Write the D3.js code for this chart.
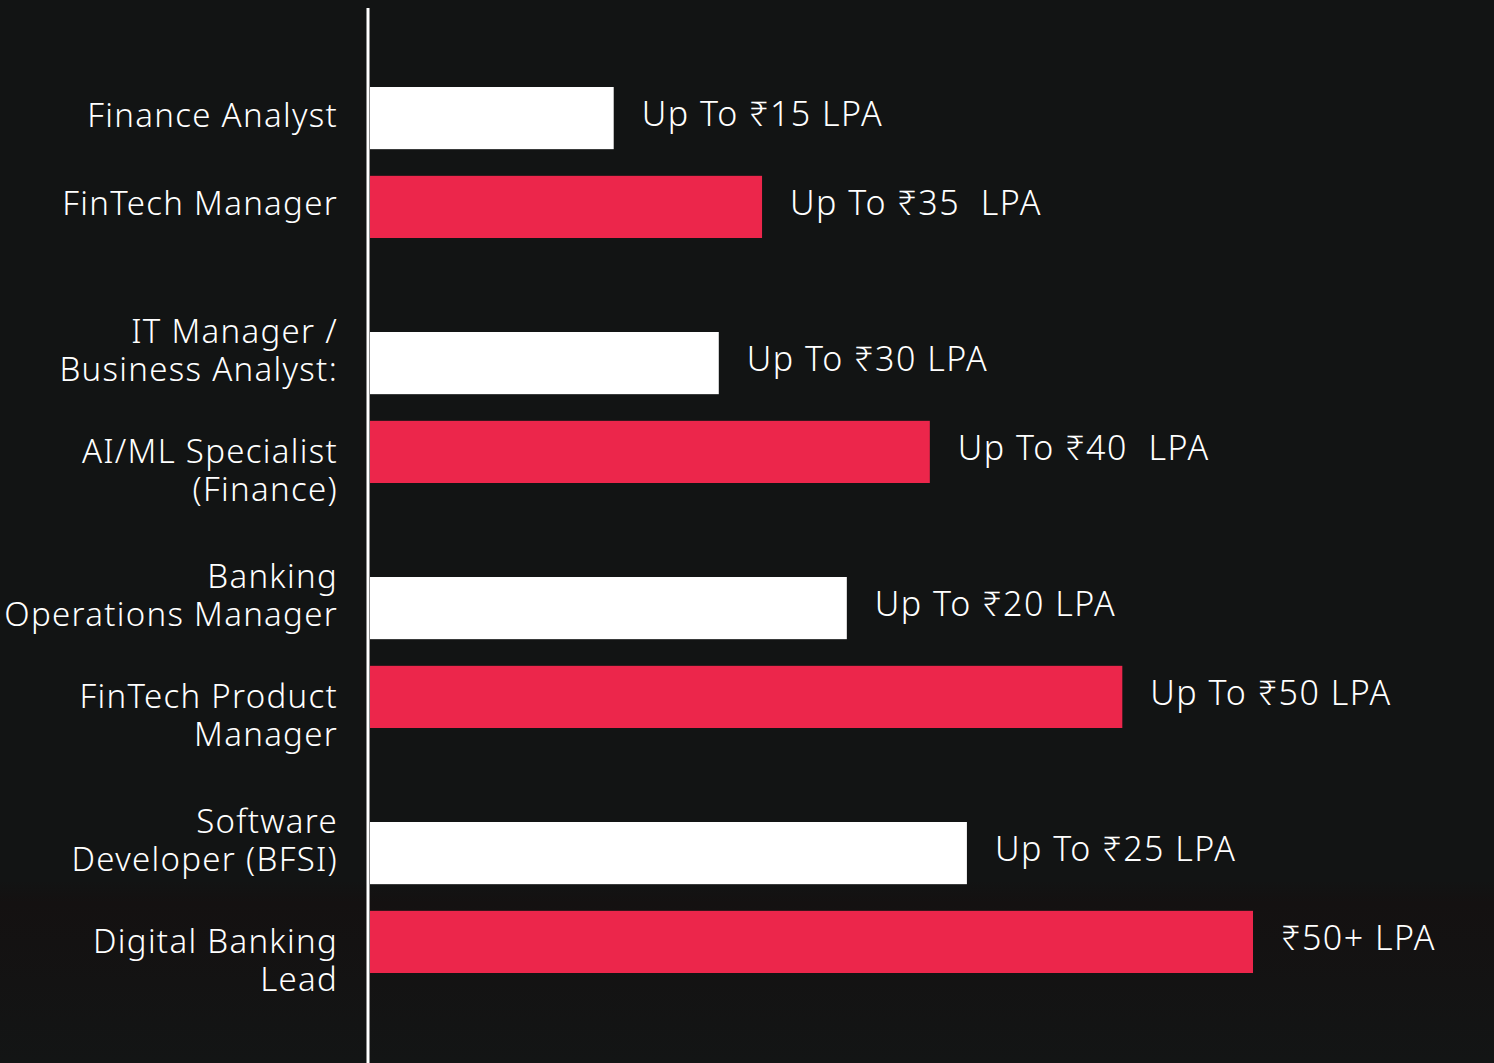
<!DOCTYPE html>
<html>
<head>
<meta charset="utf-8">
<script src="https://cdn.jsdelivr.net/npm/d3@7"></script>
<style>
  html, body { margin: 0; padding: 0; background: #121414; }
  svg { display: block; }
  text { font-family: "Noto Sans", "DejaVu Sans", sans-serif; font-weight: 300; fill: #ffffff; }
</style>
</head>
<body>
<div id="chart"></div>
<script>
// roles, top to bottom; "\n" splits a label into lines
const roles = [
  "Finance Analyst",
  "FinTech Manager",
  "IT Manager /\nBusiness Analyst:",
  "AI/ML Specialist\n(Finance)",
  "Banking\nOperations Manager",
  "FinTech Product\nManager",
  "Software\nDeveloper (BFSI)",
  "Digital Banking\nLead"
];
// bar length, % of the longest bar
const barLength = [27.6, 44.4, 39.5, 63.4, 54.0, 85.2, 67.6, 100];
const salaryLabels = [
  "Up To ₹15 LPA",
  "Up To ₹35  LPA",
  "Up To ₹30 LPA",
  "Up To ₹40  LPA",
  "Up To ₹20 LPA",
  "Up To ₹50 LPA",
  "Up To ₹25 LPA",
  "₹50+ LPA"
];
const barColors = ["#ffffff", "#ec264b"];

const width = 1494, height = 1063;
const axisX = 370;

const data = roles.map((r, i) => ({
  role: r, len: barLength[i], label: salaryLabels[i],
  group: Math.floor(i / 2), slot: i % 2
}));

const svg = d3.select("#chart").append("svg")
  .attr("width", width).attr("height", height);

// faint warmer band at the bottom (photo behind the chart)
const grad = svg.append("defs").append("linearGradient")
  .attr("id", "bottomFade").attr("x1", 0).attr("y1", 0).attr("x2", 0).attr("y2", 1);
grad.append("stop").attr("offset", "0%").attr("stop-color", "#121414");
grad.append("stop").attr("offset", "12%").attr("stop-color", "#141111");
grad.append("stop").attr("offset", "100%").attr("stop-color", "#131515");
svg.append("rect").attr("x", 0).attr("y", 880).attr("width", width).attr("height", height - 880)
  .attr("fill", "url(#bottomFade)");

const x = d3.scaleLinear().domain([0, 100]).range([axisX, 1253]);

const yGroup = d3.scaleBand()
  .domain(d3.range(4))
  .range([87, 87 + 4 * 245]);

const ySlot = d3.scaleBand()
  .domain([0, 1])
  .range([0, 151])
  .paddingInner(0.3);

const yPos = d => yGroup(d.group) + ySlot(d.slot);
const bh = ySlot.bandwidth();

svg.append("g").selectAll("rect")
  .data(data)
  .join("rect")
  .attr("x", x(0))
  .attr("y", d => yPos(d))
  .attr("width", d => x(d.len) - x(0))
  .attr("height", bh)
  .attr("fill", d => barColors[d.slot]);

// value labels
svg.append("g").selectAll("text")
  .data(data)
  .join("text")
  .attr("x", d => x(d.len) + 28)
  .attr("y", d => yPos(d) + bh / 2 - 4)
  .attr("dy", "0.35em")
  .attr("font-size", 34)
  .attr("letter-spacing", 1.5)
  .style("white-space", "pre")
  .text(d => d.label);

// role labels: white rows stack upward, red rows stack downward
const lineH = 38;
const cat = svg.append("g").selectAll("text")
  .data(data)
  .join("text")
  .attr("text-anchor", "end")
  .attr("font-size", 33)
  .attr("letter-spacing", 1.3)
  .attr("y", d => {
    const n = d.role.split("\n").length;
    const mid = yPos(d) + bh / 2;
    if (n === 1) return mid - 3;
    return d.slot === 0 ? mid - (n - 1) * lineH + 6 : mid;
  });
cat.each(function(d) {
  const t = d3.select(this);
  d.role.split("\n").forEach((line, k) => {
    t.append("tspan")
      .attr("x", 338)
      .attr("dy", k === 0 ? "0.35em" : lineH)
      .text(line);
  });
});

// vertical axis line
svg.append("line")
  .attr("x1", axisX - 2).attr("x2", axisX - 2)
  .attr("y1", 8).attr("y2", height)
  .attr("stroke", "#ffffff").attr("stroke-width", 3);
</script>
</body>
</html>
